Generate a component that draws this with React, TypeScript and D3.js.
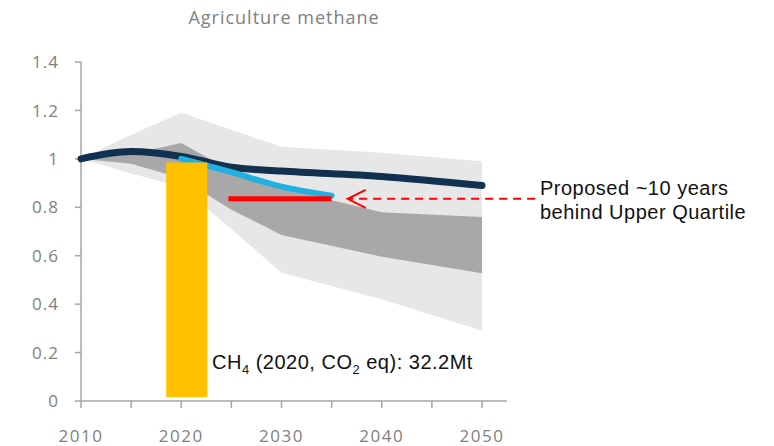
import * as d3 from "d3";

const years = [2010, 2015, 2020, 2025, 2030, 2040, 2050];
const outerHigh = [1.0, 1.1, 1.19, 1.12, 1.05, 1.025, 0.99];
const outerLow = [1.0, 0.94, 0.885, 0.71, 0.53, 0.42, 0.29];
const innerHigh = [1.0, 1.02, 1.065, 0.95, 0.88, 0.78, 0.76];
const innerLow = [1.0, 0.98, 0.92, 0.79, 0.686, 0.596, 0.528];
const currentPath = [1.0, 1.03, 1.01, 0.965, 0.95, 0.927, 0.89];

const proposedYears = [2020, 2025, 2030, 2035];
const proposedPath = [1.0, 0.945, 0.885, 0.848];

const targetYears = [2024.7, 2035];
const targetValue = 0.835;

const barYear = 2020.55;
const barWidthYears = 4.1;
const barBase = 0.016;
const barValue = 0.985;

const arrowYears = [2055.3, 2036.6];

const yTicks = [0, 0.2, 0.4, 0.6, 0.8, 1, 1.2, 1.4];
const xTicks = [2010, 2015, 2020, 2025, 2030, 2035, 2040, 2045, 2050];
const xLabels = [2010, 2020, 2030, 2040, 2050];

const W = 774;
const H = 446;

const x = d3.scaleLinear().domain([2010, 2050]).range([81, 482]);
const y = d3.scaleLinear().domain([0, 1.4]).range([401, 62]);

const axisColor = "#a6a6a6";
const tickText = "#7f7f7f";
const tickFont = "'Open Sans', sans-serif";

export default function App() {
  const band = (hi: number[], lo: number[]) =>
    d3
      .area<number>()
      .x((_, i) => x(years[i]))
      .y0((_, i) => y(lo[i]))
      .y1((d) => y(d))(hi) ?? "";

  const line = d3
    .line<[number, number]>()
    .x((d) => x(d[0]))
    .y((d) => y(d[1]))
    .curve(d3.curveMonotoneX);

  const current = line(years.map((yr, i) => [yr, currentPath[i]])) ?? "";
  const proposed =
    line(proposedYears.map((yr, i) => [yr, proposedPath[i]])) ?? "";

  const barX0 = x(barYear - barWidthYears / 2);
  const barX1 = x(barYear + barWidthYears / 2);

  const ay = y(targetValue);
  const ax0 = x(arrowYears[0]);
  const ax1 = x(arrowYears[1]);

  return (
    <svg
      width={W}
      height={H}
      style={{ position: "absolute", left: 0, top: 0, background: "#fff" }}
    >
      <text
        x={284}
        y={24}
        textAnchor="middle"
        fontFamily={tickFont}
        fontSize={18}
        letterSpacing={1}
        fill="#7f7f7f"
      >
        Agriculture methane
      </text>

      {/* ranges */}
      <path d={band(outerHigh, outerLow)} fill="#e7e7e7" />
      <path d={band(innerHigh, innerLow)} fill="#a9a7a8" />

      {/* axes */}
      <line x1={81} x2={81} y1={y(1.4)} y2={y(0)} stroke={axisColor} strokeWidth={1.5} />
      <line x1={81} x2={507} y1={y(0)} y2={y(0)} stroke={axisColor} strokeWidth={1.5} />
      {yTicks.map((t) => (
        <g key={t}>
          <line x1={75} x2={81} y1={y(t)} y2={y(t)} stroke={axisColor} strokeWidth={1.5} />
          <text
            x={59}
            y={y(t)}
            dy="0.36em"
            textAnchor="end"
            fontFamily={tickFont}
            fontSize={17}
            letterSpacing={1}
            fill={tickText}
          >
            {t === 1 ? "1" : t === 0 ? "0" : d3.format(".1f")(t)}
          </text>
        </g>
      ))}
      {xTicks.map((t) => (
        <line key={t} x1={x(t)} x2={x(t)} y1={y(0)} y2={y(0) + 7} stroke={axisColor} strokeWidth={1.5} />
      ))}
      {xLabels.map((t) => (
        <text
          key={t}
          x={x(t)}
          y={442}
          textAnchor="middle"
          fontFamily={tickFont}
          fontSize={17}
          letterSpacing={1.5}
          fill={tickText}
        >
          {t}
        </text>
      ))}

      {/* lines */}
      <path d={current} fill="none" stroke="#12304f" strokeWidth={7} strokeLinecap="round" strokeLinejoin="round" />
      <path d={proposed} fill="none" stroke="#21b0e0" strokeWidth={6} strokeLinecap="round" strokeLinejoin="round" />

      {/* 2020 bar */}
      <rect x={barX0} y={y(barValue)} width={barX1 - barX0} height={y(barBase) - y(barValue)} fill="#ffc000" />

      <line
        x1={x(targetYears[0])}
        x2={x(targetYears[1])}
        y1={y(targetValue)}
        y2={y(targetValue)}
        stroke="#ff0000"
        strokeWidth={5}
      />

      {/* arrow */}
      <line x1={ax0} x2={ax1 + 2} y1={ay} y2={ay} stroke="#ff0000" strokeWidth={2} strokeDasharray="8 6" />
      <path
        d={`M${ax1 + 18},${ay - 9} L${ax1},${ay} L${ax1 + 18},${ay + 9}`}
        fill="none"
        stroke="#ff0000"
        strokeWidth={2}
      />

      <g fontFamily="'Liberation Sans', Arial, sans-serif" fontSize={20} fill="#111">
        <text x={540} y={195} letterSpacing={0.5}>Proposed ~10 years</text>
        <text x={540} y={219} letterSpacing={0.5}>behind Upper Quartile</text>
        <text x={212} y={369} letterSpacing={0.5}>
          CH<tspan fontSize={13} dy={5}>4</tspan>
          <tspan dy={-5}> (2020, CO</tspan>
          <tspan fontSize={13} dy={5}>2</tspan>
          <tspan dy={-5}> eq): 32.2Mt</tspan>
        </text>
      </g>
    </svg>
  );
}
